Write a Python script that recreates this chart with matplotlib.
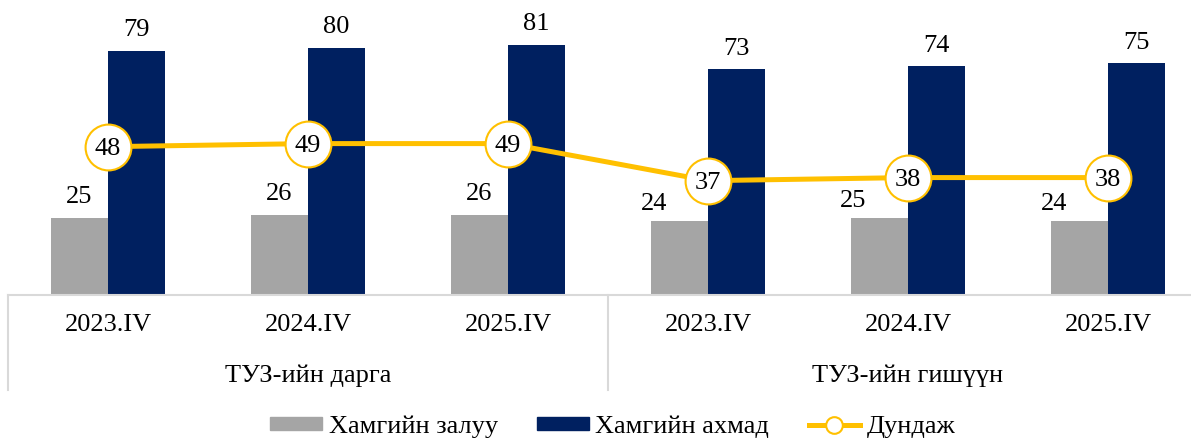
import numpy as np
import matplotlib
matplotlib.use('Agg')
import matplotlib.pyplot as plt
from matplotlib.lines import Line2D
from matplotlib.patches import Patch

plt.rcParams['font.family'] = ['Liberation Serif', 'DejaVu Serif']

periods = ['2023.IV', '2024.IV', '2025.IV', '2023.IV', '2024.IV', '2025.IV']
groups = ['ТУЗ-ийн дарга', 'ТУЗ-ийн гишүүн']
youngest = [25, 26, 26, 24, 25, 24]
oldest = [79, 80, 81, 73, 74, 75]
average = [48, 49, 49, 37, 38, 38]
series_names = ['Хамгийн залуу', 'Хамгийн ахмад', 'Дундаж']

c_gray = '#A5A5A5'
c_navy = '#002060'
c_gold = '#FFC000'
fs = 19

W, H = 1191, 442
fig = plt.figure(figsize=(W / 100, H / 100), dpi=100)
ax_bottom = 295
ax = fig.add_axes([8 / W, (H - ax_bottom) / H, 1200 / W, ax_bottom / H])

x = np.arange(len(periods))
bw = 0.285
b1 = ax.bar(x - bw / 2, youngest, bw, color=c_gray)
b2 = ax.bar(x + bw / 2, oldest, bw, color=c_navy)

# labels of the young bars in the second group were nudged left to clear the circles
young_shift = [(0, 0), (0, 0), (0, 0), (-18, -3), (-19, -3), (-18, -3)]
for b, v, (dx, dy) in zip(b1, youngest, young_shift):
    ax.annotate(str(v), (b.get_x() + b.get_width() / 2, v),
                xytext=(dx, 7 + dy), textcoords='offset points',
                ha='center', va='bottom', fontsize=fs)
for b, v in zip(b2, oldest):
    ax.annotate(str(v), (b.get_x() + b.get_width() / 2, v),
                xytext=(0, 7), textcoords='offset points',
                ha='center', va='bottom', fontsize=fs)

ax.plot(x, average, color=c_gold, lw=3.6, marker='o', ms=33,
        mfc='white', mec=c_gold, mew=1.5, zorder=3)
for xi, v in zip(x, average):
    ax.annotate(str(v), (xi, v), xytext=(0, -1.5), textcoords='offset points',
                ha='center', va='center', fontsize=fs, zorder=4)

ax.set_xlim(-0.5, len(periods) - 0.5)
ax.set_ylim(0, ax_bottom / 3.09)
for s in ['top', 'right', 'left']:
    ax.spines[s].set_visible(False)
ax.spines['bottom'].set_color('#D9D9D9')
ax.spines['bottom'].set_linewidth(1.5)
ax.set_yticks([])
ax.set_xticks([])

tr = ax.get_xaxis_transform()
for xi, p in zip(x, periods):
    ax.text(xi, -30 / ax_bottom, p, transform=tr, ha='center', va='center',
            fontsize=fs)
for gi, g in enumerate(groups):
    ax.text(gi * 3 + 1, -81 / ax_bottom, g, transform=tr, ha='center',
            va='center', fontsize=fs)
for xs in [-0.5, 2.5, 5.5]:
    ax.add_line(Line2D([xs, xs], [0, -95 / ax_bottom], transform=tr,
                       color='#D9D9D9', lw=1.5, clip_on=False))

handles = [Patch(color=c_gray), Patch(color=c_navy),
           Line2D([], [], color=c_gold, lw=3.6, marker='o', ms=12,
                  mfc='white', mec=c_gold, mew=1.5)]
fig.legend(handles, series_names, loc='center', bbox_to_anchor=(613 / W, (H - 427) / H),
           ncol=3, frameon=False, fontsize=fs, handlelength=1.95,
           handleheight=0.4, handletextpad=0.25, columnspacing=1.5)

fig.savefig('out.png', dpi=100)
